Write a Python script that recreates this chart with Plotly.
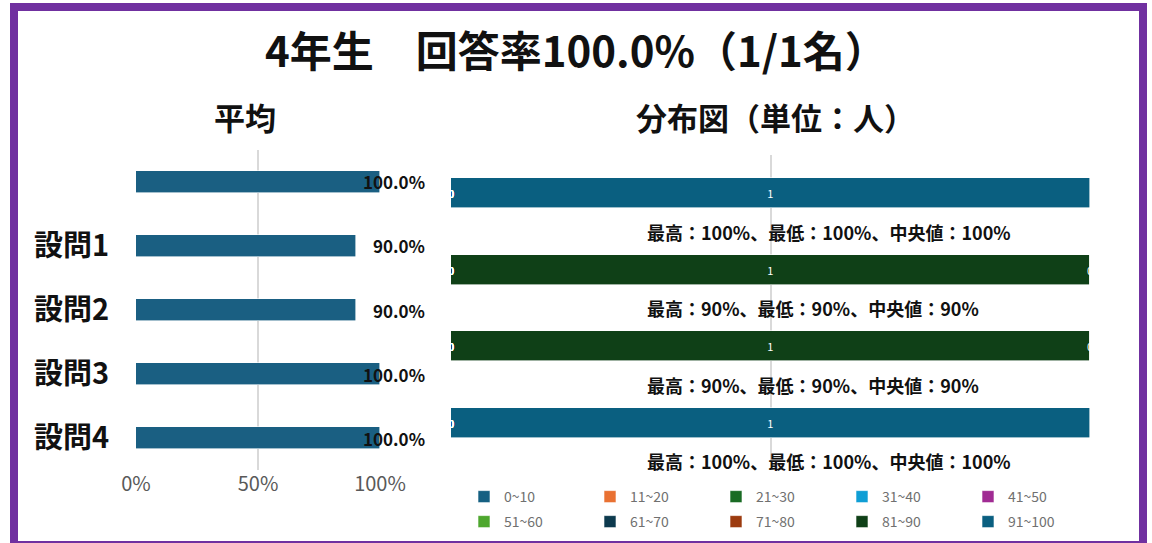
import plotly.graph_objects as go

# ---------------- data ----------------
title_text = "4年生　回答率100.0%（1/1名）"
avg_title = "平均"
dist_title = "分布図（単位：人）"

avg_categories = ["", "設問1", "設問2", "設問3", "設問4"]
avg_values = [100.0, 90.0, 90.0, 100.0, 100.0]

avg_ticks = [0, 50, 100]
avg_tick_labels = ["0%", "50%", "100%"]

questions = ["設問1", "設問2", "設問3", "設問4"]
bins = ["0~10", "11~20", "21~30", "31~40", "41~50",
        "51~60", "61~70", "71~80", "81~90", "91~100"]
# counts per bin (columns) for each question (rows)
counts = [
    [0, 0, 0, 0, 0, 0, 0, 0, 0, 1],
    [0, 0, 0, 0, 0, 0, 0, 0, 1, 0],
    [0, 0, 0, 0, 0, 0, 0, 0, 1, 0],
    [0, 0, 0, 0, 0, 0, 0, 0, 0, 1],
]
q_max = [100, 90, 90, 100]
q_min = [100, 90, 90, 100]
q_median = [100, 90, 90, 100]

bin_colors = ["#156082", "#E97132", "#196B24", "#0F9ED5", "#A02B93",
              "#4EA72E", "#0D3A4E", "#9C3B0F", "#0F4017", "#0A5F80"]

FONT = "Noto Sans CJK JP"
W, H = 1152, 543


def px(x):
    return x / W


def py(y):
    return 1 - y / H


fig = go.Figure()

# ---------------- left chart: averages ----------------
fig.add_trace(go.Bar(
    x=[v / 100 for v in avg_values],
    y=list(range(len(avg_categories))),
    orientation="h",
    marker=dict(color="#1A5F82", line=dict(color="#FFFFFF", width=0.6)),
    width=0.34,
    xaxis="x", yaxis="y",
    showlegend=False, hoverinfo="skip",
))

annotations = []
for i, v in enumerate(avg_values):
    annotations.append(dict(
        x=px(427), y=i, xref="paper", yref="y",
        text=f"{v:.1f}%", showarrow=False, xanchor="right", yanchor="middle",
        font=dict(family=FONT, size=17, color="#111111", weight="bold"),
    ))

# ---------------- right chart: distribution ----------------
n_q = len(questions)
for j, b in enumerate(bins):
    vals = [counts[i][j] / sum(counts[i]) for i in range(n_q)]
    txt = [str(counts[i][j]) if counts[i][j] else "" for i in range(n_q)]
    fig.add_trace(go.Bar(
        name=b,
        x=vals,
        y=list(range(n_q)),
        orientation="h",
        marker=dict(color=bin_colors[j], line=dict(color="#FFFFFF", width=0.6)),
        width=0.39,
        text=txt,
        textposition="inside",
        insidetextanchor="middle",
        textangle=0,
        textfont=dict(family=FONT, size=11, color="#FFFFFF"),
        xaxis="x2", yaxis="y2",
        legend="legend" if j < 5 else "legend2",
        hoverinfo="skip",
    ))

# zero labels at segment positions
for i in range(n_q):
    total = sum(counts[i])
    cum = 0
    for j in range(len(bins)):
        c = counts[i][j]
        if c == 0:
            annotations.append(dict(
                x=cum / total, y=i, xref="x2", yref="y2",
                text="0", showarrow=False, xanchor="center", yanchor="middle",
                font=dict(family=FONT, size=11, color="#FFFFFF"),
            ))
        cum += c

# summary texts
for i in range(n_q):
    annotations.append(dict(
        x=(645 - 451) / 639, y=i + 0.5, xref="x2", yref="y2",
        text=f"最高：{q_max[i]}%、最低：{q_min[i]}%、中央値：{q_median[i]}%",
        showarrow=False, xanchor="left", yanchor="middle",
        font=dict(family=FONT, size=18, color="#111111", weight="bold"),
    ))

# titles
annotations += [
    dict(x=px(576), y=py(48), xref="paper", yref="paper", text=title_text,
         showarrow=False, xanchor="center", yanchor="middle",
         font=dict(family=FONT, size=42, color="#111111", weight="bold")),
    dict(x=px(245), y=py(116), xref="paper", yref="paper", text=avg_title,
         showarrow=False, xanchor="center", yanchor="middle",
         font=dict(family=FONT, size=31, color="#111111", weight="bold")),
    dict(x=px(775), y=py(116), xref="paper", yref="paper", text=dist_title,
         showarrow=False, xanchor="center", yanchor="middle",
         font=dict(family=FONT, size=31, color="#111111", weight="bold")),
]

legend_style = dict(orientation="h", xanchor="left", yanchor="middle",
                    entrywidth=81, entrywidthmode="pixels",
                    font=dict(family=FONT, size=14, color="#707070"),
                    traceorder="normal", bgcolor="rgba(0,0,0,0)")

fig.update_layout(
    width=W, height=H,
    margin=dict(l=0, r=0, t=0, b=0, autoexpand=False),
    paper_bgcolor="#FFFFFF", plot_bgcolor="#FFFFFF",
    barmode="stack",
    bargap=0,
    font=dict(family=FONT),
    xaxis=dict(domain=[px(136), px(380)], range=[0, 1],
               tickvals=[t / 100 for t in avg_ticks], ticktext=avg_tick_labels,
               showgrid=True, gridcolor="#D9D9D9", gridwidth=2,
               zeroline=False, showline=False, ticks="",
               tickfont=dict(family=FONT, size=20, color="#595959"),
               automargin=False, anchor="y", fixedrange=True),
    yaxis=dict(domain=[py(470), py(150)],
               range=[len(avg_categories) - 0.5, -0.5],
               tickvals=list(range(len(avg_categories))), ticktext=avg_categories,
               showgrid=False, zeroline=False, showline=False, ticks="",
               ticklabelstandoff=26,
               tickfont=dict(family=FONT, size=29, color="#111111", weight="bold"),
               automargin=False, anchor="x", fixedrange=True),
    xaxis2=dict(domain=[px(451), px(1090)], range=[0, 1],
                tickvals=[0, 0.5, 1], showticklabels=False,
                showgrid=True, gridcolor="#D9D9D9", gridwidth=2,
                zeroline=False, showline=False, ticks="",
                automargin=False, anchor="y2", fixedrange=True),
    yaxis2=dict(domain=[py(461), py(155)],
                range=[n_q - 0.5, -0.5],
                showticklabels=False, showgrid=False, zeroline=False,
                showline=False, ticks="", automargin=False,
                anchor="x2", fixedrange=True),
    legend=dict(x=px(464), y=py(497), **legend_style),
    legend2=dict(x=px(464), y=py(522), **legend_style),
    annotations=annotations,
    shapes=[dict(type="rect", xref="paper", yref="paper",
                 x0=px(14), x1=px(1143), y0=py(545), y1=py(7),
                 line=dict(color="#7030A0", width=8), fillcolor="rgba(0,0,0,0)",
                 layer="above")],
)

fig.write_html("out.html",
               config={"displayModeBar": False},
               post_script="document.body.style.margin='0px';")
